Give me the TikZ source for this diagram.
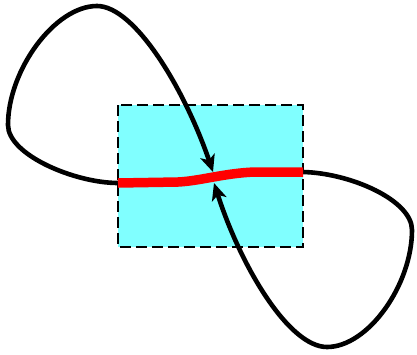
\documentclass[tikz,border=0pt]{standalone}
\usetikzlibrary{arrows.meta}
\definecolor{boxcyan}{RGB}{128,255,255}
\tikzset{
  loopline/.style={line width=4.6pt, black, -{Stealth[length=17pt,width=15pt,inset=4.5pt]}},
  redline/.style={line width=9.5pt, red},
  box/.style={fill=boxcyan, draw=black, line width=2.2pt, dash pattern=on 11pt off 5pt}
}
\begin{document}
\begin{tikzpicture}[x=1pt,y=-1pt]
\useasboundingbox (0,0) rectangle (417,354);
\draw[box] (118,105) rectangle (303,247);
\coordinate (tl) at (118,183);
\coordinate (tr) at (303,172);
\coordinate (ta) at (213,172);
\coordinate (tb) at (214,183);
\draw[loopline] (tl) .. controls (75,183) and (8,155) .. (8,125)
  .. controls (8,70) and (55,6) .. (97,6)
  .. controls (135,6) and (185,90) .. (ta);
\draw[loopline] (tr) .. controls (350,173) and (412,200) .. (412,230)
  .. controls (412,285) and (368,347) .. (327,347)
  .. controls (289,347) and (241,267) .. (tb);
\draw[redline] (tl) -- (178,182) .. controls (200,181) and (225,173) .. (255,172) -- (tr);
\end{tikzpicture}
\end{document}
